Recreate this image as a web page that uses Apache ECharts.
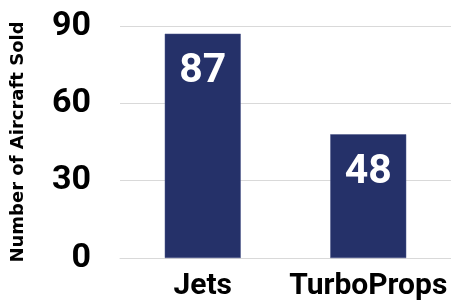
<!DOCTYPE html>
<html><head><meta charset="utf-8">
<script src="https://cdn.jsdelivr.net/npm/echarts@6/dist/echarts.min.js"></script>
<style>html,body{margin:0;padding:0;background:#fff}#c{width:451px;height:303px}</style>
</head><body><div id="c"></div>
<script>
const categories = ['Jets', 'TurboProps'];
const aircraftSold = [87, 48];
const yTicks = { min: 0, max: 90, interval: 30 };
const yAxisTitle = 'Number of Aircraft Sold';

const chart = echarts.init(document.getElementById('c'), null, { renderer: 'canvas' });
chart.setOption({
  animation: false,
  backgroundColor: '#ffffff',
  grid: { left: 120, right: -2, top: 26, bottom: 45 },
  xAxis: {
    type: 'category',
    data: categories,
    axisLine: { show: true, lineStyle: { color: '#d9d9d9', width: 1 } },
    axisTick: { show: false },
    axisLabel: { interval: 0, color: '#000', fontFamily: '"Liberation Sans Narrow", Roboto', fontWeight: 'bold', fontSize: 30, margin: 13 }
  },
  yAxis: {
    type: 'value',
    min: yTicks.min, max: yTicks.max, interval: yTicks.interval,
    name: yAxisTitle,
    nameLocation: 'middle',
    nameGap: 93,
    nameTextStyle: { color: '#000', fontFamily: 'DejaVu Sans', fontWeight: 'bold', fontSize: 18 },
    axisLine: { show: false },
    axisTick: { show: false },
    splitLine: { lineStyle: { color: '#d9d9d9', width: 1 } },
    axisLabel: { color: '#000', fontFamily: 'Roboto', fontWeight: 'bold', fontSize: 34, margin: 29 }
  },
  series: [{
    type: 'bar',
    data: aircraftSold,
    barWidth: 76,
    itemStyle: { color: '#253169', borderColor: '#4a5488', borderWidth: 0.5 },
    label: {
      show: true,
      position: 'insideTop',
      distance: 18,
      color: '#fff',
      fontFamily: 'Roboto',
      fontWeight: 'bold',
      fontSize: 41
    }
  }]
});
</script></body></html>
